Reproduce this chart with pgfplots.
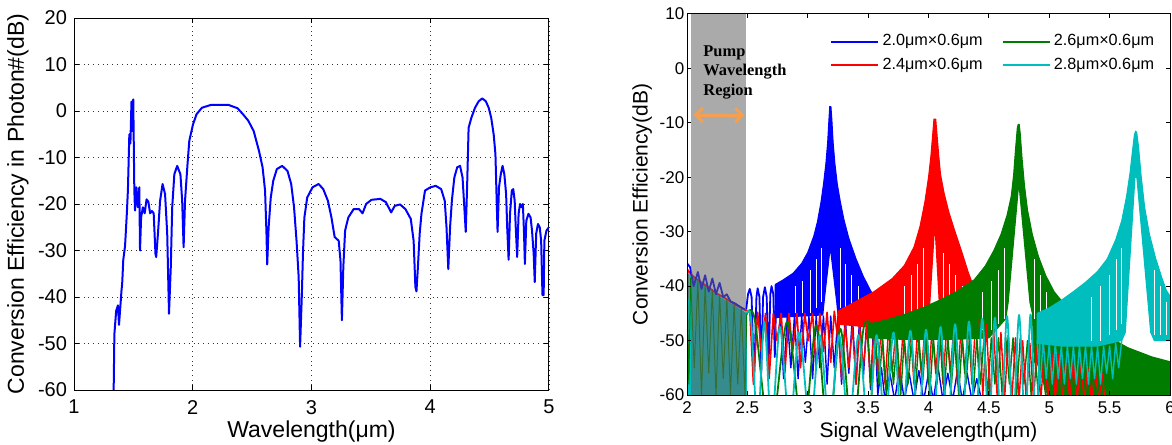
\documentclass[border=0pt]{standalone}
\usepackage{fontspec}
\setmainfont{Liberation Sans}
\newfontfamily\tnr{Liberation Serif}
\usepackage{pgfplots}
\pgfplotsset{compat=1.18}
\usetikzlibrary{arrows.meta}
\definecolor{mblue}{RGB}{0,0,255}
\definecolor{mred}{RGB}{255,0,0}
\definecolor{mgreen}{RGB}{0,125,0}
\definecolor{mcyan}{RGB}{0,190,190}
\definecolor{morange}{RGB}{245,160,80}
\definecolor{shade}{RGB}{100,100,100}
\begin{document}
\begin{tikzpicture}
\useasboundingbox (0,0) rectangle (586bp,222.5bp);
% ---------------- left panel ----------------
\begin{axis}[at={(37bp,27.5bp)}, anchor=south west, scale only axis,
  width=237.5bp, height=186bp,
  xmin=1, xmax=5, ymin=-60, ymax=20,
  xtick={1,2,3,4,5}, ytick={-60,-50,...,20},
  grid=major, grid style={dotted, black!80, line width=0.4bp},
  tick align=inside, major tick length=2.5bp,
  tick style={line width=0.5bp, black},
  axis line style={line width=0.5bp},
  ticklabel style={font=\fontsize{10bp}{12bp}\selectfont},
  xticklabel style={yshift=-1.5bp},
  /pgf/number format/assume math mode=true,
  label style={font=\fontsize{11.5bp}{13bp}\selectfont},
  xlabel={Wavelength(μm)}, ylabel={Conversion Efficiency in Photon\#(dB)},
  xlabel style={at={(axis description cs:0.5,-0.113)}, anchor=center},
  ylabel style={at={(axis description cs:-0.118,0.5)}, anchor=center},
]
\addplot[mblue, line width=1bp, line join=round] coordinates {
(1.334,-60) (1.340,-48) (1.355,-43) (1.370,-41.8) (1.379,-46) (1.391,-41.8) (1.400,-38.6) (1.406,-37) (1.415,-32) (1.430,-29) (1.445,-22) (1.454,-17) (1.466,-5) (1.475,-7) (1.484,2) (1.490,-4.3) (1.499,2.5) (1.508,-17) (1.514,-21.4) (1.526,-16.4) (1.538,-20.7) (1.550,-16.4) (1.556,-30) (1.565,-22.9) (1.580,-20.7) (1.595,-22) (1.611,-19) (1.626,-19.5) (1.641,-22) (1.656,-21.5) (1.671,-22) (1.686,-30.7) (1.692,-31.4) (1.707,-26.4) (1.725,-19.3) (1.746,-15.7) (1.767,-17.9) (1.785,-26.4) (1.800,-43.6) (1.815,-33.6) (1.827,-20.7) (1.845,-13.6) (1.869,-11.8) (1.896,-13.6) (1.911,-19.3) (1.923,-29.3) (1.935,-19.3) (1.956,-11.4) (1.971,-6.4) (2.002,-2.9) (2.032,-0.7) (2.077,0.7) (2.152,1.3) (2.302,1.3) (2.377,0.6) (2.423,-0.7) (2.468,-2.1) (2.513,-4.3) (2.558,-8.6) (2.588,-12.1) (2.609,-17.1) (2.621,-26.4) (2.627,-33) (2.639,-25) (2.657,-18.6) (2.678,-15) (2.708,-12.5) (2.753,-11.8) (2.798,-12.9) (2.829,-15.7) (2.853,-20.7) (2.874,-27.9) (2.892,-35.7) (2.904,-50.7) (2.919,-39.3) (2.928,-30.7) (2.940,-22.9) (2.964,-18.6) (3.009,-16.4) (3.060,-15.7) (3.099,-16.8) (3.138,-19.3) (3.168,-22.9) (3.195,-27.1) (3.229,-27.9) (3.244,-32.1) (3.256,-45) (3.268,-33.6) (3.283,-25.7) (3.310,-22.9) (3.355,-21.1) (3.400,-21.1) (3.430,-22) (3.460,-20) (3.505,-19.1) (3.580,-18.9) (3.626,-19.6) (3.671,-21.8) (3.701,-20.4) (3.746,-20.1) (3.791,-21.1) (3.836,-23.2) (3.860,-27.9) (3.875,-37.9) (3.884,-38.8) (3.896,-33.6) (3.911,-26.4) (3.926,-22.1) (3.956,-17.1) (4.002,-16.4) (4.047,-16.1) (4.092,-16.8) (4.122,-19.3) (4.137,-25) (4.152,-34) (4.167,-25) (4.182,-19.3) (4.203,-14.3) (4.227,-12.1) (4.251,-11.8) (4.272,-14.3) (4.287,-20.7) (4.299,-26) (4.311,-15.7) (4.323,-3.6) (4.347,-1.4) (4.377,0.7) (4.408,2.1) (4.438,2.7) (4.468,2.1) (4.492,0.7) (4.513,-1.4) (4.534,-5) (4.549,-9.3) (4.558,-17.9) (4.567,-26) (4.579,-16.4) (4.594,-13.6) (4.609,-11.8) (4.624,-13.6) (4.639,-17.9) (4.648,-25) (4.660,-32) (4.672,-22) (4.687,-17.1) (4.699,-16.8) (4.711,-19.3) (4.720,-25) (4.732,-31.4) (4.744,-22.1) (4.756,-20) (4.768,-20.7) (4.780,-20) (4.789,-25.7) (4.797,-32.9) (4.809,-23.6) (4.827,-22.1) (4.845,-22.9) (4.857,-25.7) (4.871,-30.7) (4.880,-36.8) (4.892,-26.4) (4.907,-24.3) (4.922,-25) (4.934,-27.9) (4.945,-39.6) (4.955,-39.6) (4.961,-27.9) (4.979,-25.7) (5.000,-25)
};
\end{axis}
% ---------------- right panel ----------------
\begin{axis}[at={(343.5bp,25bp)}, anchor=south west, scale only axis,
  width=241.5bp, height=190.5bp,
  xmin=2, xmax=6, ymin=-60, ymax=10,
  xtick={2,2.5,3,3.5,4,4.5,5,5.5,6}, ytick={-60,-50,...,10},
  axis on top,
  tick align=inside, major tick length=2bp,
  tick style={line width=0.5bp, black},
  axis line style={line width=0.5bp},
  ticklabel style={font=\fontsize{8.5bp}{10bp}\selectfont},
  yticklabel style={inner sep=1.2bp},
  /pgf/number format/assume math mode=true,
  label style={font=\fontsize{10.5bp}{12bp}\selectfont},
  xlabel={Signal Wavelength(μm)}, ylabel={Conversion Efficiency(dB)},
  xlabel style={at={(axis description cs:0.5,-0.097)}, anchor=center},
  ylabel style={at={(axis description cs:-0.093,0.5)}, anchor=center},
  legend image code/.code={\draw[#1] (0bp,0bp) -- (23.5bp,0bp);},
  legend style={at={(axis description cs:0.296,0.955)}, anchor=north west,
    draw=none, fill=none, inner sep=0pt,
    font=\fontsize{8.1bp}{9bp}\selectfont,
    nodes={inner sep=1.5bp},
    /tikz/every even column/.append style={column sep=8bp},
    row sep=1.5bp},
  legend columns=2,
  unbounded coords=jump,
  every axis plot/.append style={line join=round},
]
\addlegendimage{mblue, line width=1.1bp}\addlegendentry{2.0μm×0.6μm}
\addlegendimage{mgreen, line width=1.1bp}\addlegendentry{2.6μm×0.6μm}
\addlegendimage{mred, line width=1.1bp}\addlegendentry{2.4μm×0.6μm}
\addlegendimage{mcyan, line width=1.1bp}\addlegendentry{2.8μm×0.6μm}
% ---- blue 2.0um ----
\addplot[mblue, line width=0.9bp, forget plot] coordinates {
(2.49,-44.3)(2.505,-41.5)(2.52,-40.5)(2.535,-42)(2.555,-58)(2.575,-42)(2.585,-40.4)(2.60,-42)(2.615,-56)(2.63,-42)(2.645,-40.2)(2.66,-42)(2.675,-55)(2.69,-41.5)(2.70,-40)(2.715,-41.5)(2.727,-53)(2.74,-41)(2.752,-39.6)(2.765,-41)(2.775,-48)
};
\addplot[mblue, fill=mblue, line width=0.5bp, forget plot] coordinates {
(2.73,-39.7)(2.80,-38.8)(2.88,-37.6)(2.95,-35.8)(3.00,-33.8)(3.05,-30.8)(3.08,-28.2)(3.11,-24.5)(3.13,-21.3)(3.15,-17.5)(3.165,-13.5)(3.175,-9.5)(3.182,-7)(3.192,-7)(3.20,-9.5)(3.21,-13.5)(3.225,-17.5)(3.245,-21.3)(3.27,-24.5)(3.30,-27.8)(3.34,-31.2)(3.40,-35)(3.46,-38.2)(3.52,-40.8)(3.56,-42.3)
(3.56,-44.5)(3.40,-45.2)(3.25,-45.3)(3.24,-43)(3.19,-33.5)(3.183,-33.5)(3.135,-43)(3.125,-45.3)(2.95,-45.5)(2.80,-45.7)(2.73,-45.8)(2.73,-39.7)
};
\addplot[white, line width=0.45bp, forget plot] coordinates {
(2.90,-45)(2.90,-40)(2.90,nan)(2.96,-45)(2.96,-39)(2.96,nan)(3.02,-45)(3.02,-37)(3.02,nan)(3.07,-44)(3.07,-35)(3.07,nan)(3.11,-43)(3.11,-33)(3.11,nan)
(3.27,-44)(3.27,-33)(3.27,nan)(3.31,-44)(3.31,-36)(3.31,nan)(3.36,-44)(3.36,-38)(3.36,nan)(3.42,-44)(3.42,-40)
};
\addplot[mblue, line width=0.7bp, forget plot] coordinates {
(2.775,-45.5)(2.80,-57)(2.83,-45.5)(2.86,-55)(2.89,-45.5)(2.92,-57)(2.95,-45.5)(2.98,-54)(3.01,-45.5)(3.04,-57)(3.07,-45.5)(3.10,-55)(3.13,-45.5)(3.16,-58)(3.19,-45.5)(3.22,-55)(3.25,-45.5)(3.28,-58)(3.31,-45.5)(3.34,-56)(3.37,-45.5)(3.40,-58)(3.43,-45.5)(3.46,-57)(3.49,-45.5)(3.52,-59)(3.55,-45)(3.58,-60)
(3.61,-55)(3.64,-61)(3.68,-56)(3.72,-61)(3.76,-55)(3.80,-61)(3.84,-56)(3.88,-61)(3.92,-55.5)(3.96,-61)(4.00,-56)(4.04,-61)(4.08,-55)(4.12,-61)(4.16,-56)(4.20,-61)(4.24,-55.5)(4.28,-61)(4.32,-56)(4.36,-61)(4.40,-57)(4.44,-61)
};
% ---- red 2.4um ----
\addplot[mred, line width=0.8bp, forget plot] coordinates {
(2.49,-44.5)(2.52,-44.5)(2.55,-58)(2.585,-44.8)(2.615,-52)(2.65,-45)(2.68,-57)(2.715,-45)(2.745,-50)(2.78,-45)(2.81,-56)(2.845,-45)(2.875,-52)(2.91,-45)(2.94,-55)(2.975,-45)(3.005,-50)(3.04,-45)(3.07,-55)(3.10,-45)(3.13,-52)(3.16,-44.8)(3.19,-54)(3.22,-44.6)(3.25,-50)(3.27,-44.5)
};
\addplot[mred, fill=mred, line width=0.5bp, forget plot] coordinates {
(3.25,-44.6)(3.40,-42.8)(3.55,-41)(3.70,-38.6)(3.80,-36.2)(3.88,-32.8)(3.93,-29)(3.97,-24.5)(4.00,-20)(4.02,-16)(4.035,-12)(4.045,-9.3)(4.06,-9.3)(4.07,-12)(4.085,-16)(4.10,-19.5)(4.13,-23)(4.17,-26.5)(4.22,-30)(4.28,-34)(4.33,-37.5)(4.38,-40.5)(4.42,-42.5)
(4.42,-46)(4.25,-47.5)(4.10,-47.5)(4.09,-43.5)(4.056,-30)(4.048,-30)(4.01,-43.5)(4.0,-47.5)(3.8,-48)(3.5,-47.5)(3.25,-47)(3.25,-44.6)
};
\addplot[white, line width=0.45bp, forget plot] coordinates {
(3.80,-47)(3.80,-40)(3.80,nan)(3.86,-47)(3.86,-38)(3.86,nan)(3.91,-46)(3.91,-36)(3.91,nan)(3.96,-46)(3.96,-33)(3.96,nan)
(4.12,-46)(4.12,-34)(4.12,nan)(4.17,-46)(4.17,-36)(4.17,nan)(4.22,-47)(4.22,-38)(4.22,nan)(4.28,-47)(4.28,-40)
};
\addplot[mred, line width=0.7bp, forget plot] coordinates {
(3.25,-47)(3.28,-57)(3.31,-47)(3.34,-55)(3.37,-47.5)(3.40,-58)(3.43,-47.5)(3.46,-55)(3.49,-47.5)(3.52,-58)(3.55,-47.5)(3.58,-56)(3.61,-47.5)(3.64,-58)(3.67,-47.5)(3.70,-56)(3.73,-47.5)(3.76,-58)(3.79,-48)(3.82,-56)(3.85,-48)(3.88,-58)(3.91,-48)(3.94,-56)(3.97,-48)(4.00,-58)(4.03,-47.5)(4.06,-56)(4.09,-47.5)(4.12,-58)(4.15,-47.5)(4.18,-56)(4.21,-47.5)(4.24,-58)(4.27,-47.5)(4.30,-56)(4.33,-47)(4.36,-58)(4.39,-46.5)(4.42,-57)
};
% ---- green 2.6um ----
\addplot[mgreen, line width=0.9bp, smooth, forget plot] coordinates {
(2.49,-45.3)(2.56,-46)(2.69,-68)(2.83,-46.5)(2.96,-68)(3.07,-47.2)(3.17,-68)(3.27,-47.8)(3.37,-68)(3.46,-48)(3.52,-47)
};
\addplot[mgreen, fill=mgreen, line width=0.5bp, forget plot] coordinates {
(3.50,-47)(3.65,-46.2)(3.80,-45.2)(3.95,-44)(4.10,-42.5)(4.25,-40.8)(4.38,-38.8)(4.47,-36.3)(4.54,-33.5)(4.60,-30.5)(4.65,-27)(4.685,-23.5)(4.705,-19.5)(4.72,-15)(4.735,-11)(4.742,-10.3)(4.752,-10.3)(4.76,-12)(4.775,-16.5)(4.795,-21.5)(4.82,-26)(4.86,-30.5)(4.91,-34.5)(4.97,-38)(5.04,-41)(5.12,-43.2)(5.25,-45.5)(5.45,-48.8)(5.65,-51.3)(5.85,-53)(6.02,-54)
(6.02,-61)(5.0,-61)(4.87,-52)(4.86,-45)(4.84,-43)(4.752,-22)(4.744,-22)(4.66,-43)(4.64,-46)(4.5,-49.5)(4.2,-49.8)(3.8,-49.8)(3.5,-49.5)(3.50,-47)
};
\addplot[white, line width=0.45bp, forget plot] coordinates {
(4.45,-48)(4.45,-41)(4.45,nan)(4.52,-48)(4.52,-39)(4.52,nan)(4.58,-47)(4.58,-37)(4.58,nan)(4.625,-46)(4.625,-33)(4.625,nan)
(4.88,-46)(4.88,-35)(4.88,nan)(4.93,-47)(4.93,-38)(4.93,nan)(4.98,-48)(4.98,-41)
};
\addplot[mgreen, line width=0.7bp, forget plot] coordinates {
(3.50,-49.5)(3.53,-60)(3.56,-49.5)(3.59,-58)(3.62,-49.5)(3.65,-60)(3.68,-49.5)(3.71,-58)(3.74,-49.5)(3.77,-60)(3.80,-49.5)(3.83,-58)(3.86,-49.5)(3.89,-60)(3.92,-49.5)(3.95,-58)(3.98,-49.5)(4.01,-60)(4.04,-49.5)(4.07,-58)(4.10,-49.5)(4.13,-60)(4.16,-49.5)(4.19,-58)(4.22,-49.5)(4.25,-60)(4.28,-49.5)(4.31,-58)(4.34,-49.5)(4.37,-60)(4.40,-49.5)(4.43,-58)(4.46,-49.5)(4.49,-60)(4.52,-49.5)(4.55,-58)(4.58,-49.5)(4.61,-60)(4.64,-49.5)(4.67,-58)(4.70,-49.5)(4.73,-60)(4.76,-49.5)(4.79,-58)(4.82,-50)(4.85,-60)(4.88,-52)(4.91,-60)(4.94,-55)(4.97,-60)(5.0,-60)
};
% red bars on the right tail
\addplot[mred, line width=0.7bp, forget plot] coordinates {
(4.42,-46)(4.45,-60)(4.48,-47)(4.51,-61)(4.54,-48)(4.57,-61)(4.60,-48.5)(4.63,-61)(4.66,-49)(4.69,-61)(4.72,-49.5)(4.75,-61)(4.78,-50)(4.81,-61)(4.84,-50.5)(4.87,-61)(4.90,-51)(4.93,-61)(4.96,-51.5)(4.99,-61)(5.02,-52)(5.05,-61)(5.08,-52.5)(5.11,-61)(5.14,-53)(5.17,-61)(5.20,-53.5)(5.23,-61)(5.26,-54)(5.29,-61)(5.32,-55)(5.35,-61)(5.38,-55.5)(5.41,-61)(5.44,-56)(5.46,-61)
};
% ---- cyan 2.8um ----
\addplot[mcyan, line width=0.9bp, smooth, forget plot] coordinates {
(2.49,-45.2)(2.53,-46)(2.585,-66)(2.64,-46.5)(2.70,-66)(2.77,-47.5)(2.85,-66)(2.93,-48.5)(3.02,-66)(3.10,-49)(3.18,-66)(3.26,-49)(3.34,-66)(3.42,-49)(3.50,-66)(3.57,-49)(3.64,-66)(3.71,-48.5)(3.78,-66)(3.85,-48.2)(3.915,-66)(3.98,-48)(4.04,-66)(4.10,-47.5)(4.16,-66)(4.22,-47)(4.28,-66)(4.335,-46.5)(4.39,-66)(4.445,-46)(4.50,-66)(4.55,-45.8)(4.60,-66)(4.65,-45.5)(4.70,-66)(4.75,-45.3)(4.80,-66)(4.845,-45.2)(4.89,-66)(4.93,-45)
};
\addplot[mcyan, fill=mcyan, line width=0.5bp, forget plot] coordinates {
(4.90,-45)(5.00,-44)(5.10,-42.6)(5.20,-41)(5.30,-39.3)(5.40,-37.3)(5.48,-35)(5.55,-31.5)(5.60,-28)(5.64,-23.5)(5.67,-19)(5.69,-15)(5.705,-12.2)(5.715,-11.5)(5.725,-11.8)(5.74,-14.5)(5.76,-19.5)(5.79,-25.5)(5.83,-30.5)(5.88,-34.8)(5.93,-38.3)(5.97,-40.8)(6.02,-42.5)
(6.02,-50)(5.87,-50)(5.84,-48.5)(5.725,-20)(5.71,-20)(5.63,-48.5)(5.60,-50)(5.40,-51)(5.10,-51)(4.90,-50.5)(4.90,-45)
};
\addplot[white, line width=0.45bp, forget plot] coordinates {
(5.35,-50)(5.35,-42)(5.35,nan)(5.42,-50)(5.42,-40)(5.42,nan)(5.50,-49)(5.50,-38)(5.50,nan)(5.56,-48)(5.56,-35)(5.56,nan)(5.60,-47)(5.60,-33)(5.60,nan)
(5.87,-49)(5.87,-37)(5.87,nan)(5.92,-49)(5.92,-40)(5.92,nan)(5.97,-49)(5.97,-43)
};
\addplot[mcyan, line width=0.7bp, forget plot] coordinates {
(4.90,-50)(4.925,-58)(4.95,-50)(4.975,-57)(5.0,-50.5)(5.025,-58)(5.05,-50.5)(5.075,-57)(5.10,-51)(5.125,-58)(5.15,-51)(5.175,-57)(5.20,-51)(5.225,-58)(5.25,-51)(5.275,-57)(5.30,-51)(5.325,-58)(5.35,-51)(5.375,-57)(5.40,-51)(5.425,-58)(5.45,-51)(5.475,-56)(5.50,-51)(5.525,-57)(5.55,-50.5)(5.575,-55)(5.60,-50)
};
% ---- pump region (2.0-2.5) ----
\addplot[mcyan, fill=mcyan, draw=none, forget plot] coordinates {
(2.0,-60)(2.0,-37.5)(2.1,-39)(2.2,-40.8)(2.3,-42.3)(2.4,-43.6)(2.495,-45)(2.495,-60)
};
\addplot[mgreen, line width=0.5bp, forget plot] coordinates {
(2.0,-38)(2.015,-58)(2.03,-38.5)(2.06,-55)(2.09,-39)(2.12,-60)(2.15,-39.8)(2.18,-56)(2.21,-40.6)(2.24,-60)(2.27,-41.5)(2.30,-57)(2.33,-42.3)(2.36,-60)(2.39,-43.2)(2.42,-58)(2.45,-44)(2.48,-60)(2.495,-45)
};
\addplot[mred, line width=0.9bp, forget plot] coordinates {
(2.0,-55)(2.004,-37)(2.05,-38.2)(2.1,-39)(2.15,-39.8)(2.2,-40.6)(2.25,-41.4)(2.3,-42)(2.35,-42.7)(2.4,-43.4)(2.45,-44)(2.49,-44.5)
};
\addplot[mblue, line width=0.9bp, forget plot] coordinates {
(2.0,-35.8)(2.025,-36.5)(2.055,-40)(2.09,-37.4)(2.12,-40.5)(2.15,-38)(2.18,-41)(2.21,-38.6)(2.24,-41.5)(2.27,-39.4)(2.30,-42)(2.33,-41.5)(2.36,-42.8)(2.40,-43.2)(2.44,-43.8)(2.48,-44.3)
};
\addplot[draw=none, fill=shade, fill opacity=0.55, forget plot] coordinates {
(2.035,-60)(2.035,10)(2.488,10)(2.488,-60)
};
\node[anchor=north west, align=left, inner sep=0pt,
  font=\tnr\bfseries\fontsize{8.2bp}{9.75bp}\selectfont] at (axis cs:2.133,4.3) {Pump\\Wavelength\\Region};
\draw[morange, line width=1.5bp, {Straight Barb[length=3.5bp,width=7bp]}-{Straight Barb[length=3.5bp,width=7bp]}]
  (axis cs:2.055,-8.56) -- (axis cs:2.475,-8.56);
\end{axis}
\end{tikzpicture}
\end{document}
